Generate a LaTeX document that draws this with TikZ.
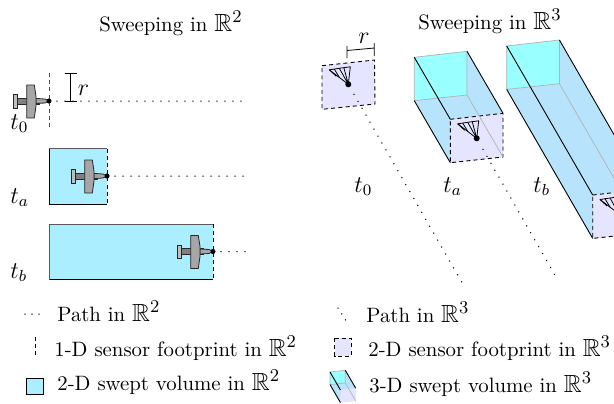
\documentclass[tikz,border=0pt]{standalone}
\usepackage{amssymb}
\definecolor{sweep}{HTML}{AAEEFF}
\definecolor{backf}{HTML}{99FFFF}
\definecolor{sidef}{HTML}{B7E4FC}
\definecolor{foot}{HTML}{E5E5FF}
\definecolor{planeg}{HTML}{A6A6A6}
\newcommand{\MyR}[1]{{\fontsize{12.4}{14}\selectfont$\mathbb{R}^{#1}$}}
\tikzset{
  pathdots/.style={line width=.75pt,line cap=round,dash pattern=on 0pt off 4pt},
  footline/.style={line width=.45pt,dash pattern=on 2pt off 1.6pt},
  footbox/.style={fill=foot,draw=black,line width=.45pt,dash pattern=on 2pt off 1.6pt},
  footplain/.style={fill=foot,draw=none},
  edge/.style={line width=.45pt,black},
  hidden/.style={line width=.35pt,draw=black!30},
  title/.style={anchor=base west,inner sep=0pt,font=\fontsize{10.4}{12}\selectfont},
  legtext/.style={anchor=base west,inner sep=0pt,font=\fontsize{10.4}{12}\selectfont},
  timelab/.style={anchor=base west,inner sep=0pt,font=\large},
  planebody/.style={draw=black!85,line width=.4pt,fill=planeg},
  fan/.style={draw=black,line width=.4pt,line join=round},
  headdot/.style={circle,fill=black,inner sep=0pt,minimum size=2.4pt},
  bar/.style={line width=.4pt,black}
}
\newcommand{\MyPlane}[2]{%
  \begin{scope}[shift={(#1,#2)}]
    \draw[planebody,fill=black!50] (-32,-3) rectangle (-10,3);
    \draw[planebody,fill=black!25] (-35.5,-6.5) rectangle (-31.5,7);
    \draw[planebody] (-13,-2.5) -- (-4,-2) -- (0,0) -- (-4,2) -- (-13,2.5) -- cycle;
    \draw[planebody] (-22.3,-16) -- (-14.7,-16) -- (-13,-5) -- (-13,5) -- (-14.7,17) -- (-22.3,17) -- cycle;
  \end{scope}}
\newcommand{\MyFan}[2]{%
  \begin{scope}[shift={(#1,#2)}]
    \draw[fan] (0,0) -- (-19,-14.5) -- (-9,-16) -- (2,-17.5) -- cycle;
    \draw[fan] (0,0) -- (-9,-16) (0,0) -- (-4.5,-16.8) (-19,-14.5) -- (-12,-8) (-14,-15.2) -- (-9,-7);
  \end{scope}}
% #1 scope options, #2 #3 front offset, #4 front face style
\newcommand{\MyPrism}[4]{%
  \begin{scope}[#1]
    \coordinate (bTL) at (0,0); \coordinate (bTR) at (52.7,-6);
    \coordinate (bBR) at (52.7,37.7); \coordinate (bBL) at (0,43.4);
    \coordinate (fTL) at (#2,#3);
    \coordinate (fTR) at ($(fTL)+(52.7,-6)$);
    \coordinate (fBR) at ($(fTL)+(52.7,37.7)$);
    \coordinate (fBL) at ($(fTL)+(0,43.4)$);
    \fill[sidef] (bTL) -- (bTR) -- (fTR) -- (fBR) -- (fBL) -- (bBL) -- cycle;
    \fill[backf] (bTL) -- (bTR) -- (bBR) -- (bBL) -- cycle;
    \path[#4] (fTL) -- (fTR) -- (fBR) -- (fBL) -- cycle;
    \draw[hidden] (bTL) -- (bTR) -- (bBR) -- (bBL) -- cycle;
    \draw[hidden] (bBR) -- (fBR);
    \draw[edge] (bTL) -- (fTL) (bTR) -- (fTR) (bBL) -- (fBL);
  \end{scope}}
\usetikzlibrary{calc}
\begin{document}
\begin{tikzpicture}[x=.5pt,y=-.5pt]
\useasboundingbox (0,0) rectangle (614,403);
\clip (0,0) rectangle (614,403);

% ---- titles
\node[title] (t2) at (99,31) {Sweeping in \MyR{2}};
\node[title] (t3) at (418,29.5) {Sweeping in \MyR{3}};

% ---- R^2 panels
\fill[sweep] (49,148.5) rectangle (107,204.5);
\draw[edge] (107,204.5) -- (49,204.5) -- (49,148.5);
\draw[line width=.45pt,black!65] (49,148.5) -- (107,148.5);
\fill[sweep] (49,224) rectangle (213,279.5);
\draw[edge] (49,279.5) -- (213,279.5);
\draw[line width=.45pt,black!65] (49,279.5) -- (49,224) -- (213,224);

\coordinate (endA) at (247,101); \coordinate (endB) at (247,176); \coordinate (endC) at (247,251.5);
\node[headdot] (d0) at (49,101) {};
\node[headdot] (da) at (107,176) {};
\node[headdot] (db) at (213,251.5) {};
\draw[pathdots] (d0) ++(8,0) -- (endA);
\draw[pathdots] (da) ++(8,0) -- (endB);
\draw[pathdots] (db) ++(8,0) -- (endC);
\draw[footline,black!70] (49,73) -- (49,127);
\draw[footline] (107,148.5) -- (107,204.5);
\draw[footline] (213,224) -- (213,279.5);
\MyPlane{49}{101}\MyPlane{107}{176}\MyPlane{213}{251.5}
\node[headdot] at (49,101) {};
\node[headdot] at (107,176) {};
\node[headdot] at (213,251.5) {};

\coordinate (rA) at (70.5,73.5); \coordinate (rB) at (70.5,101);
\draw[bar] (rA) -- (rB) (64.5,73.5) -- (76.5,73.5) (64.5,101) -- (76.5,101);
\node[timelab] (rl) at (77.5,95) {$r$};
\node[timelab] (l0) at (10,129) {$t_0$};
\node[timelab] (la) at (10,203) {$t_a$};
\node[timelab] (lb) at (10,278) {$t_b$};

% ---- R^3 panels
\coordinate (p0) at (348.3,84.3);
\coordinate (pa) at (476.7,138.3);
\coordinate (pb) at (619,214);
\coordinate (e0) at (464,286);
\coordinate (ea) at (556,277);
\draw[footbox] (322,65.7) -- (374.5,60) -- (375,104) -- (322,109.3) -- cycle;
\draw[pathdots] ($(p0)!.05!(e0)$) -- (e0);
\MyFan{348.3}{84.3}
\node[headdot,minimum size=3pt] (n0) at (p0) {};
\draw[bar] (347,50.5) -- (374.3,48) (347,46) -- (347,58) (374.3,43) -- (374.3,56);
\node[timelab] (r3) at (358,43) {$r$};

\MyPrism{shift={(414.3,57.3)}}{36}{62}{footbox}
\draw[pathdots] ($(pa)!.08!(ea)$) -- (ea);
\MyFan{476.7}{138.3}
\node[headdot,minimum size=3pt] (na) at (pa) {};

\MyPrism{shift={(506.7,46)}}{86}{149}{footbox}
\MyFan{619}{214}
\node[headdot,minimum size=3pt] (nb) at (pb) {};

\node[timelab] (m0) at (354,192) {$t_0$};
\node[timelab] (ma) at (443,192) {$t_a$};
\node[timelab] (mb) at (533,192) {$t_b$};

% ---- legend left
\coordinate (lg1a) at (25,314); \coordinate (lg1b) at (41,314);
\draw[pathdots,dash pattern=on 0pt off 3.5pt] (lg1a) -- (lg1b);
\node[legtext] (lt1) at (57,321.5) {Path in \MyR{2}};
\coordinate (lg2a) at (35,337); \coordinate (lg2b) at (35,355);
\draw[footline] (lg2a) -- (lg2b);
\node[legtext] (lt2) at (54,356) {1-D sensor footprint in \MyR{2}};
\draw[fill=sweep,line width=.45pt] (26,378) rectangle (43,394.5);
\node[legtext] (lt3) at (57,390) {2-D swept volume in \MyR{2}};

% ---- legend right
\coordinate (lg4a) at (338,308); \coordinate (lg4b) at (347.5,323);
\draw[pathdots,dash pattern=on 0pt off 3.5pt] (lg4a) -- (lg4b);
\node[legtext] (lt4) at (366,322) {Path in \MyR{3}};
\draw[footbox] (334.5,338) rectangle (351,356);
\node[legtext] (lt5) at (368,356) {2-D sensor footprint in \MyR{3}};
\MyPrism{shift={(330,372)},scale=.29}{36}{62}{footplain}
\node[legtext] (lt6) at (369,392) {3-D swept volume in \MyR{3}};
\end{tikzpicture}
\end{document}
